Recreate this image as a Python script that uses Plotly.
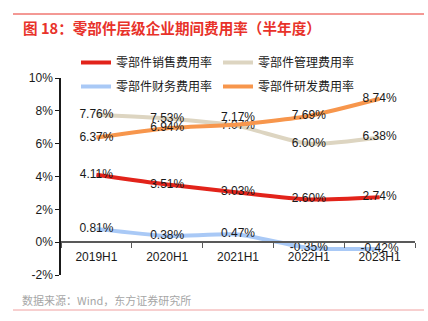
import plotly.graph_objects as go

periods = ["2019H1", "2020H1", "2021H1", "2022H1", "2023H1"]
sales_rate = [4.11, 3.51, 3.03, 2.60, 2.74]
admin_rate = [7.76, 7.53, 7.07, 6.00, 6.38]
finance_rate = [0.81, 0.38, 0.47, -0.35, -0.42]
rnd_rate = [6.37, 6.94, 7.17, 7.69, 8.74]

y_ticks = [-2, 0, 2, 4, 6, 8, 10]
y_tick_text = [f"{v}%" for v in y_ticks]

FONT = "Liberation Sans, Arial, Noto Sans CJK SC, sans-serif"

# label placement per series (R&D label at 2021H1 sits above to clear the admin label)
series = [
    ("零部件销售费用率", sales_rate, "#e2231a", "legend", ["middle center"] * 5),
    ("零部件管理费用率", admin_rate, "#ddd5c1", "legend2", ["middle center"] * 5),
    ("零部件财务费用率", finance_rate, "#a9c9f6", "legend", ["middle center"] * 5),
    ("零部件研发费用率", rnd_rate, "#f7964c", "legend2",
     ["middle center", "middle center", "top center", "middle center", "middle center"]),
]

# plot area in pixels
L, R, T, B = 61, 13, 78, 46
W, H = 428, 321
PW, PH = W - L - R, H - T - B


def px_x(x):
    return (x - L) / PW


def px_y(y):
    return (H - B - y) / PH


fig = go.Figure()
for name, vals, color, lg, pos in series:
    fig.add_trace(go.Scatter(
        x=periods, y=vals, name=name, mode="lines+text",
        line=dict(color=color, width=4, shape="spline", smoothing=0.6),
        text=[f"{v:.2f}%" for v in vals], textposition=pos,
        textfont=dict(size=12, color="#1a1a1a", family=FONT),
        legend=lg, legendgroup=name, cliponaxis=False,
    ))

y_lo, y_hi = -2, 10

legend_style = dict(yanchor="top", xanchor="left", orientation="v",
                    font=dict(size=12, family=FONT), bgcolor="rgba(0,0,0,0)",
                    itemwidth=30, tracegroupgap=5)

fig.update_layout(
    width=W, height=H,
    margin=dict(l=L, r=R, t=T, b=B),
    paper_bgcolor="white", plot_bgcolor="white",
    font=dict(family=FONT, size=12, color="#1a1a1a"),
    showlegend=True,
    legend=dict(x=px_x(76), y=px_y(48), **legend_style),
    legend2=dict(x=px_x(218), y=px_y(48), **legend_style),
    xaxis=dict(type="category", range=[-0.5, 4.5], anchor="free",
               position=(0 - y_lo) / (y_hi - y_lo),
               showline=True, linecolor="#595959", linewidth=1.5,
               ticks="outside", tickson="boundaries", ticklen=5,
               tickcolor="#595959", showgrid=False, zeroline=False,
               ticklabelstandoff=4,
               tickfont=dict(size=12, color="#1a1a1a")),
    yaxis=dict(range=[y_lo, y_hi], tickmode="array", tickvals=y_ticks,
               ticktext=y_tick_text,
               showline=True, linecolor="#1a1a1a", linewidth=1.5,
               ticks="outside", ticklen=4, tickcolor="#1a1a1a",
               showgrid=False, zeroline=False,
               tickfont=dict(size=12, color="#1a1a1a")),
)

# header rule, title, source line and footer rule
fig.add_shape(type="line", xref="paper", yref="paper",
              x0=px_x(13), x1=px_x(424), y0=px_y(14), y1=px_y(14),
              line=dict(color="#e8322a", width=1))
fig.add_annotation(text="<b>图 18：零部件层级企业期间费用率（半年度）</b>",
                   xref="paper", yref="paper", x=px_x(21), y=px_y(27),
                   xanchor="left", yanchor="middle", showarrow=False,
                   font=dict(size=14.6, color="#e8322a", family="Noto Sans CJK SC, sans-serif"))
fig.add_annotation(text="数据来源：Wind，东方证券研究所",
                   xref="paper", yref="paper", x=px_x(20), y=px_y(300),
                   xanchor="left", yanchor="middle", showarrow=False,
                   font=dict(size=11, color="#a6a6a6", family="Noto Sans CJK SC, sans-serif"))
fig.add_shape(type="line", xref="paper", yref="paper",
              x0=px_x(13), x1=px_x(424), y0=px_y(310), y1=px_y(310),
              line=dict(color="#f0a0a0", width=1))

fig.write_html("out.html")
